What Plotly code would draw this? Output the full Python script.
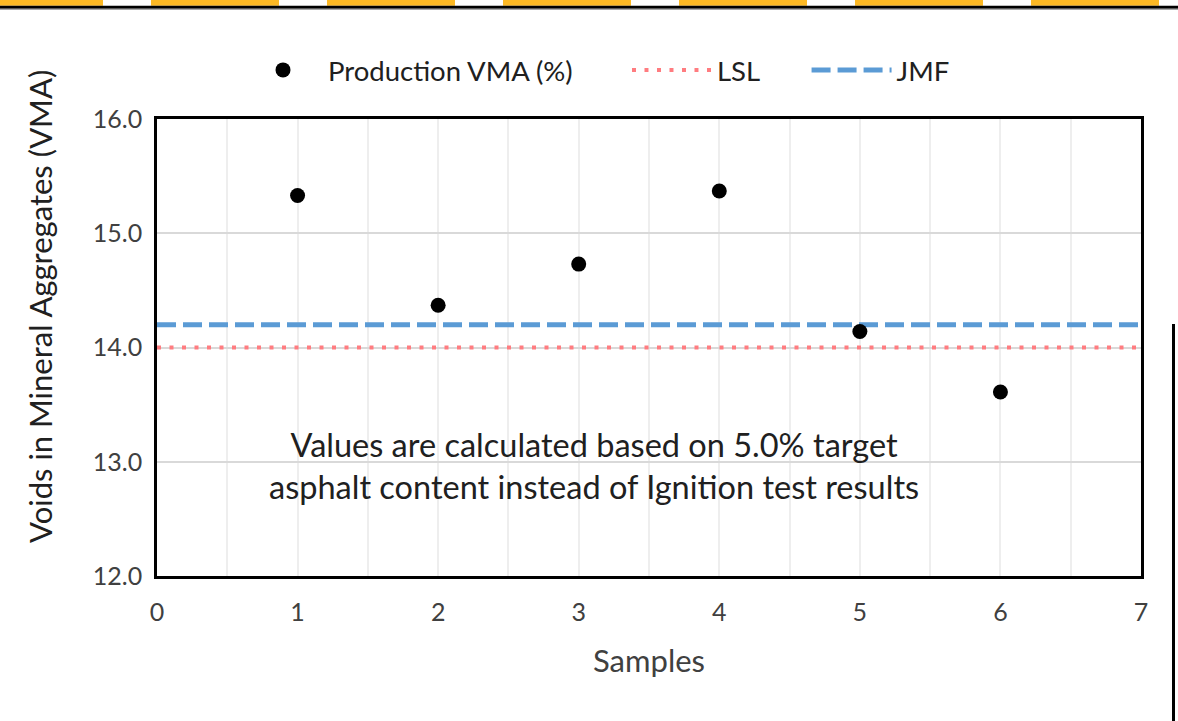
import plotly.graph_objects as go

# ---- data ----
samples = [1, 2, 3, 4, 5, 6]
vma = [15.33, 14.37, 14.73, 15.37, 14.14, 13.61]
lsl_x = [0, 7]
lsl_y = [14.0, 14.0]
jmf_x = [0, 7]
jmf_y = [14.2, 14.2]
x_ticks = [0, 1, 2, 3, 4, 5, 6, 7]
y_ticks = [12.0, 13.0, 14.0, 15.0, 16.0]
y_tick_labels = ["12.0", "13.0", "14.0", "15.0", "16.0"]
y_title = "Voids in Mineral Aggregates (VMA)"
x_title = "Samples"
note = "Values are calculated based on 5.0% target<br>asphalt content instead of Ignition test results"

FONT = "Lato, Noto Sans, sans-serif"
W, H = 1178, 721
L, R, T, B = 157, 37, 119, 145
PW, PH = W - L - R, H - T - B
NB = "\u00a0"


def px(x):
    return (x - L) / PW


def py(y):
    return (H - B - y) / PH


fig = go.Figure()
fig.add_trace(go.Scatter(
    x=lsl_x, y=lsl_y, mode="lines", name="LSL" + NB * 6, legendrank=2,
    line=dict(color="#ff7c80", width=4, dash="4px,8.5px"),
))
fig.add_trace(go.Scatter(
    x=jmf_x, y=jmf_y, mode="lines", name="JMF", legendrank=3,
    line=dict(color="#5b9bd5", width=5, dash="19px,7px"),
))
fig.add_trace(go.Scatter(
    x=samples, y=vma, mode="markers", name="Production VMA (%)" + NB * 7,
    legendrank=1, marker=dict(color="black", size=15),
))

shapes = []
# decorative page artifacts seen in the reference screenshot
for k in range(7):
    x0 = -25 + 176 * k
    shapes.append(dict(type="rect", xref="paper", yref="paper",
                       x0=px(max(x0, 0)), x1=px(x0 + 128), y0=py(5.7), y1=py(0),
                       fillcolor="#fdb924", line=dict(width=0), layer="above"))
shapes.append(dict(type="rect", xref="paper", yref="paper",
                   x0=px(0), x1=px(W), y0=py(8.8), y1=py(5.7),
                   fillcolor="black", line=dict(width=0)))
shapes.append(dict(type="rect", xref="paper", yref="paper",
                   x0=px(0), x1=px(W), y0=py(10), y1=py(8.8),
                   fillcolor="#a8a8a8", line=dict(width=0)))
shapes.append(dict(type="rect", xref="paper", yref="paper",
                   x0=px(1172), x1=px(1175), y0=py(H), y1=py(324),
                   fillcolor="black", line=dict(width=0)))

fig.update_layout(
    width=W, height=H,
    margin=dict(l=L, r=R, t=T, b=B),
    paper_bgcolor="white", plot_bgcolor="white",
    font=dict(family=FONT, color="#404040"),
    showlegend=True,
    legend=dict(
        orientation="h", x=px(238), xanchor="left", y=py(70), yanchor="middle",
        font=dict(size=27.5, color="#202020"), traceorder="normal",
        itemwidth=80, bgcolor="rgba(0,0,0,0)",
    ),
    shapes=shapes,
    annotations=[
        dict(x=3.11, y=12.97, xref="x", yref="y", text=note, showarrow=False,
             font=dict(size=32.5, color="#202020", family=FONT), align="center"),
        dict(x=px(40), y=py(307), xref="paper", yref="paper", text=y_title,
             textangle=-90, showarrow=False, xanchor="center", yanchor="middle",
             font=dict(size=31, color="#202020", family=FONT)),
    ],
)
fig.update_xaxes(
    range=[0, 7], tickvals=x_ticks, showline=True, linecolor="black", linewidth=2.5,
    mirror=True, showgrid=True, gridcolor="#eeeeee", gridwidth=1.5,
    minor=dict(dtick=0.5, showgrid=True, gridcolor="#eeeeee", gridwidth=1.5),
    zeroline=False, ticks="", ticklabelstandoff=12,
    tickfont=dict(size=25, color="#404040"),
    title=dict(text=x_title, font=dict(size=31, color="#404040"), standoff=26),
)
fig.update_yaxes(
    range=[12, 16], tickvals=y_ticks, ticktext=y_tick_labels, showline=True,
    linecolor="black", linewidth=2.5, mirror=True, showgrid=True,
    gridcolor="#d9d9d9", gridwidth=1.5, zeroline=False, ticks="",
    ticklabelstandoff=7, tickfont=dict(size=25, color="#404040"),
)

fig.write_html("out.html")
